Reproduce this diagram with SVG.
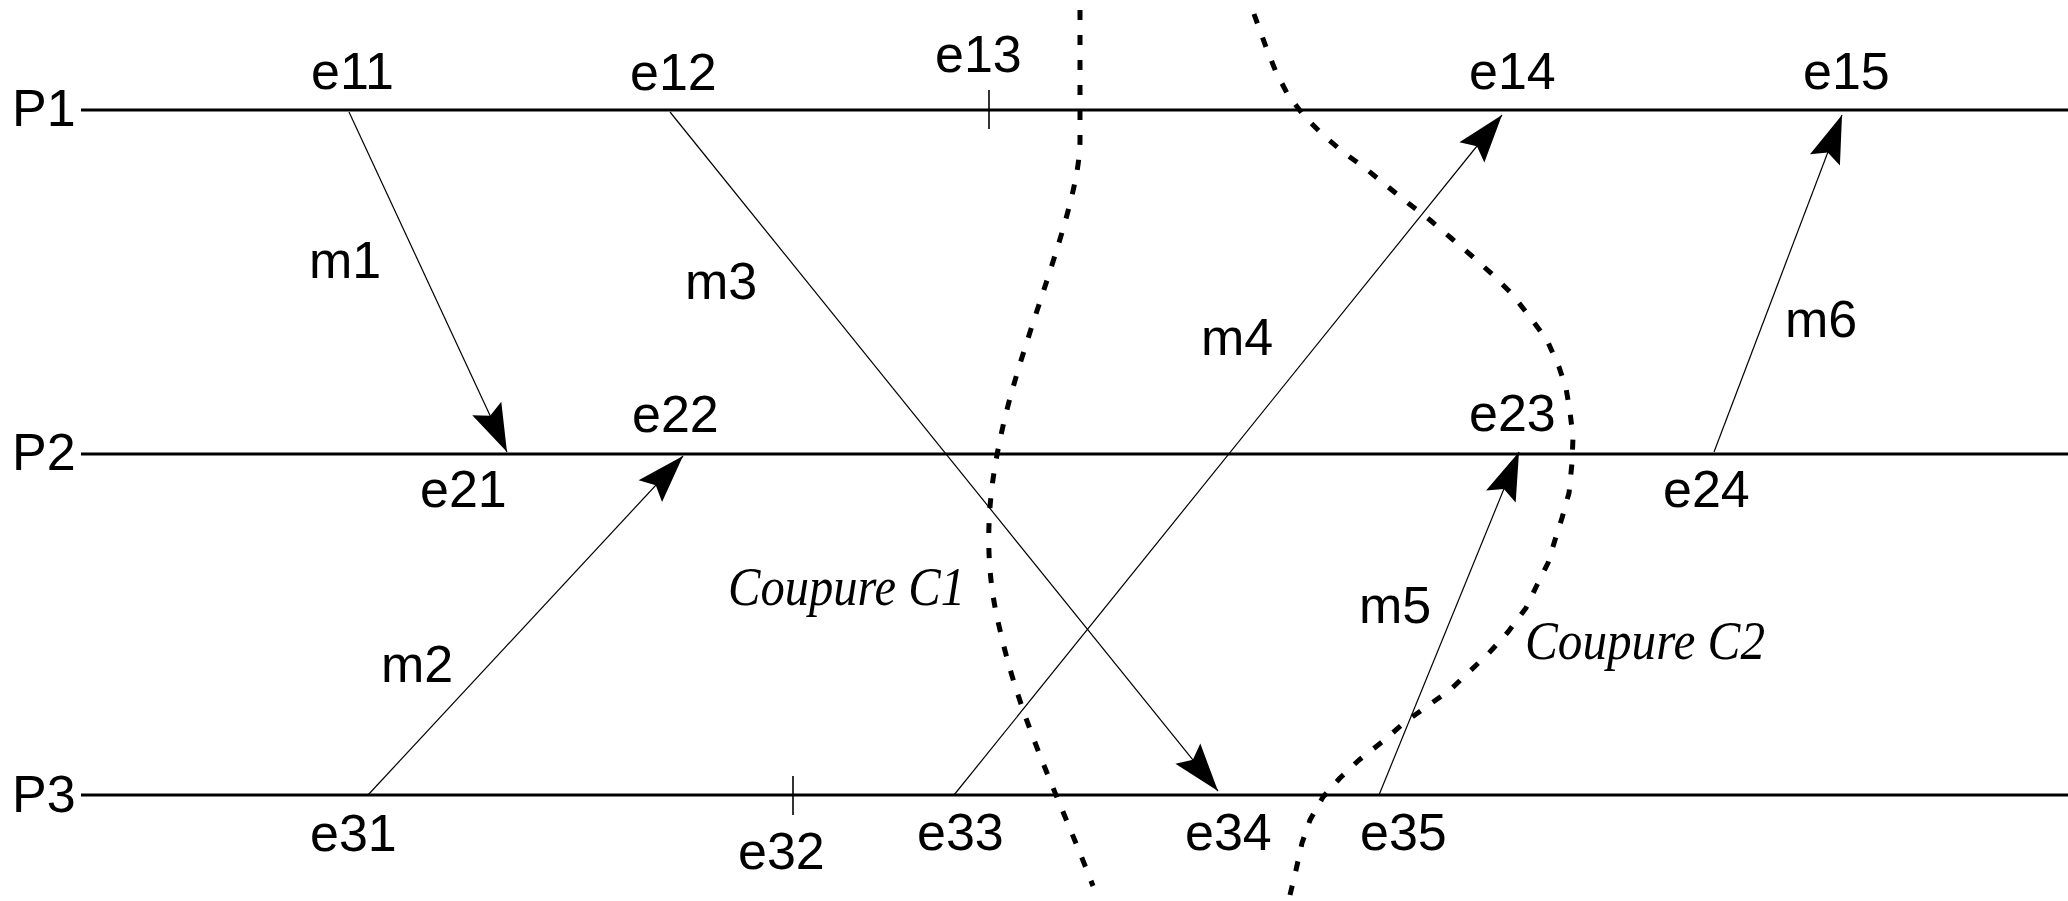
<svg xmlns="http://www.w3.org/2000/svg" width="2068" height="901" viewBox="0 0 2068 901">
<style>
.lbl{font-family:"Liberation Sans",Arial,sans-serif;font-size:52px;fill:#000}
.cut-lbl{font-family:"Liberation Serif","Times New Roman",serif;font-style:italic;font-size:55px;fill:#000}
.proc{stroke:#000;stroke-width:3;fill:none}
.tick{stroke:#000;stroke-width:1.6;fill:none}
.msg{stroke:#000;stroke-width:1.2;fill:none;marker-end:url(#arrow)}
.cut{stroke:#000;stroke-width:5;fill:none;stroke-dasharray:10 15;stroke-linejoin:round}
</style>
<defs>
<marker id="arrow" markerUnits="userSpaceOnUse" viewBox="-50 -18 52 36" markerWidth="52" markerHeight="36" refX="0" refY="0" orient="auto">
<path d="M0,0 L-48,-16 L-40,0 L-48,16 Z" fill="#000"/>
</marker>
</defs>
<rect width="2068" height="901" fill="#fff"/>
<g id="P1">
<line class="proc" x1="81" y1="110" x2="2068" y2="110"/>
<text class="lbl" x="12" y="126">P1</text>
<text class="lbl" x="311" y="89">e11</text>
<text class="lbl" x="630" y="90">e12</text>
<line class="tick" x1="989" y1="90" x2="989" y2="129"/>
<text class="lbl" x="935" y="72">e13</text>
<text class="lbl" x="1469" y="89">e14</text>
<text class="lbl" x="1803" y="89">e15</text>
</g>
<g id="P2">
<line class="proc" x1="81" y1="454" x2="2068" y2="454"/>
<text class="lbl" x="12" y="470">P2</text>
<text class="lbl" x="420" y="507">e21</text>
<text class="lbl" x="632" y="432">e22</text>
<text class="lbl" x="1469" y="431">e23</text>
<text class="lbl" x="1663" y="507">e24</text>
</g>
<g id="P3">
<line class="proc" x1="81" y1="795" x2="2068" y2="795"/>
<text class="lbl" x="12" y="812">P3</text>
<text class="lbl" x="310" y="851">e31</text>
<line class="tick" x1="793" y1="776" x2="793" y2="815"/>
<text class="lbl" x="738" y="869">e32</text>
<text class="lbl" x="917" y="850">e33</text>
<text class="lbl" x="1185" y="850">e34</text>
<text class="lbl" x="1360" y="850">e35</text>
</g>
<g id="connectors">
<line class="msg" x1="349" y1="112" x2="507" y2="452"/>
<line class="msg" x1="368" y1="795" x2="683" y2="456"/>
<line class="msg" x1="670" y1="112" x2="1218" y2="791"/>
<line class="msg" x1="954" y1="795" x2="1502" y2="115"/>
<line class="msg" x1="1379" y1="795" x2="1519" y2="452"/>
<line class="msg" x1="1714" y1="452" x2="1842" y2="115"/>
<text class="lbl" x="309" y="278">m1</text>
<text class="lbl" x="381" y="682">m2</text>
<text class="lbl" x="685" y="299">m3</text>
<text class="lbl" x="1201" y="355">m4</text>
<text class="lbl" x="1359" y="623">m5</text>
<text class="lbl" x="1785" y="337">m6</text>
</g>
<g id="C1">
<path class="cut" d="M1080,10 L1080,140 C1080,210 1020,340 1000,440 C985,510 985,570 1000,630 C1020,720 1060,800 1093,886"/>
<text class="cut-lbl" x="728" y="605" textLength="237" lengthAdjust="spacingAndGlyphs">Coupure C1</text>
</g>
<g id="C2">
<polyline class="cut" points="1254,14 1266,47 1276,72 1288,95 1305,117 1323,135 1343,152 1365,168 1387,186 1408,203 1430,220 1451,238 1473,257 1493,275 1511,293 1530,317 1547,340 1559,367 1566,388 1570,412 1573,437 1572,463 1569,493 1562,518 1555,540 1548,563 1537,585 1526,608 1508,632 1489,653 1470,671 1450,690 1426,707 1404,723 1382,742 1359,760 1340,778 1323,797 1310,820 1302,843 1296,870 1290,895"/>
<text class="cut-lbl" x="1525" y="659" textLength="240" lengthAdjust="spacingAndGlyphs">Coupure C2</text>
</g>
</svg>
